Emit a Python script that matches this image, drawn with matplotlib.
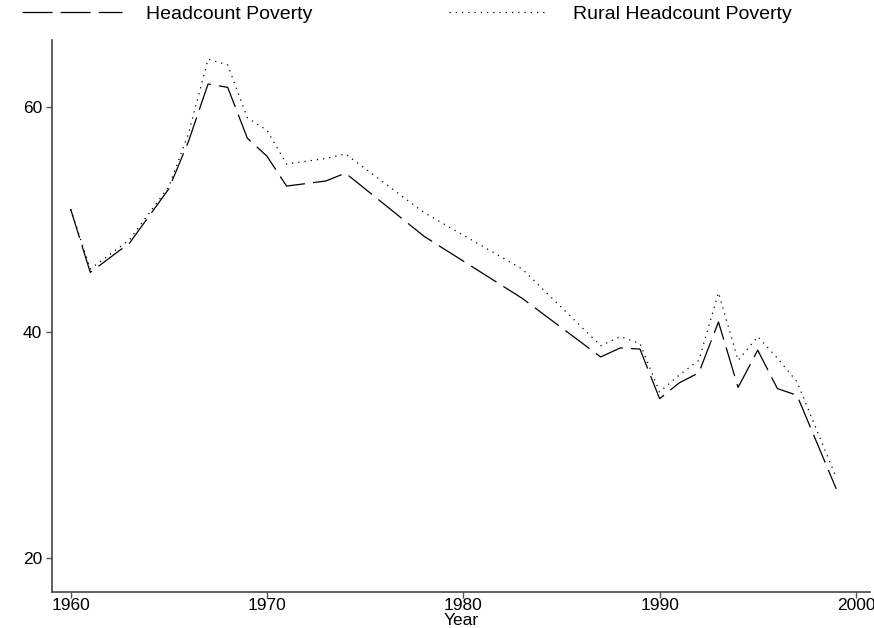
import matplotlib
matplotlib.use("Agg")
import matplotlib.pyplot as plt

plt.rcParams["font.family"] = ["Liberation Sans", "DejaVu Sans"]

# values
years = [1960, 1961, 1963, 1965, 1966, 1967, 1968, 1969, 1970, 1971, 1973, 1974,
         1978, 1983, 1987, 1988, 1989, 1990, 1991, 1992, 1993, 1994, 1995, 1996,
         1997, 1999]
headcount = [50.9, 45.3, 47.9, 52.7, 56.9, 62.0, 61.7, 57.2, 55.6, 52.95, 53.4, 54.1,
             48.5, 43.0, 37.8, 38.6, 38.5, 34.1, 35.5, 36.4, 40.9, 35.1, 38.4, 35.0,
             34.4, 26.1]
rural = [50.9, 45.6, 48.2, 52.9, 57.6, 64.2, 63.7, 59.0, 57.9, 54.9, 55.4, 55.8,
         50.6, 45.6, 38.8, 39.6, 39.0, 34.7, 36.2, 37.5, 43.5, 37.5, 39.6, 37.7,
         35.6, 27.1]
xticks = [1960, 1970, 1980, 1990, 2000]
yticks = [20, 40, 60]

fig = plt.figure(figsize=(8.74, 6.28), dpi=100)
ax = fig.add_axes([0.0595, 0.058, 0.9355, 0.8783])

ax.plot(years, headcount, color="black", lw=0.9, linestyle=(0, (24, 6.5)),
        label="Headcount Poverty")
ax.plot(years, rural, color="black", lw=0.9, linestyle=(0, (1, 4)),
        label="Rural Headcount Poverty")

ax.set_xlim(1959.05, 2000.7)
ax.set_ylim(17.0, 65.9)
ax.set_xticks(xticks)
ax.set_yticks(yticks)
ax.tick_params(direction="out", length=4, width=1, color="#555555",
               labelsize=12.5, labelcolor="black")
ax.tick_params(axis="x", pad=0.5)
ax.tick_params(axis="y", pad=3)
for s in ["top", "right"]:
    ax.spines[s].set_visible(False)
for s in ["left", "bottom"]:
    ax.spines[s].set_color("#444444")
    ax.spines[s].set_linewidth(1.2)

ax.set_xlabel("Year", fontsize=12.5, labelpad=0)

fig.legend(loc="upper left", bbox_to_anchor=(20 / 874, 1 - 3 / 628), ncol=2,
           frameon=False, fontsize=14, handlelength=5.15, handletextpad=1.25,
           columnspacing=7.0, borderpad=0.1, borderaxespad=0)

fig.savefig("out.png", dpi=100, facecolor="white")
